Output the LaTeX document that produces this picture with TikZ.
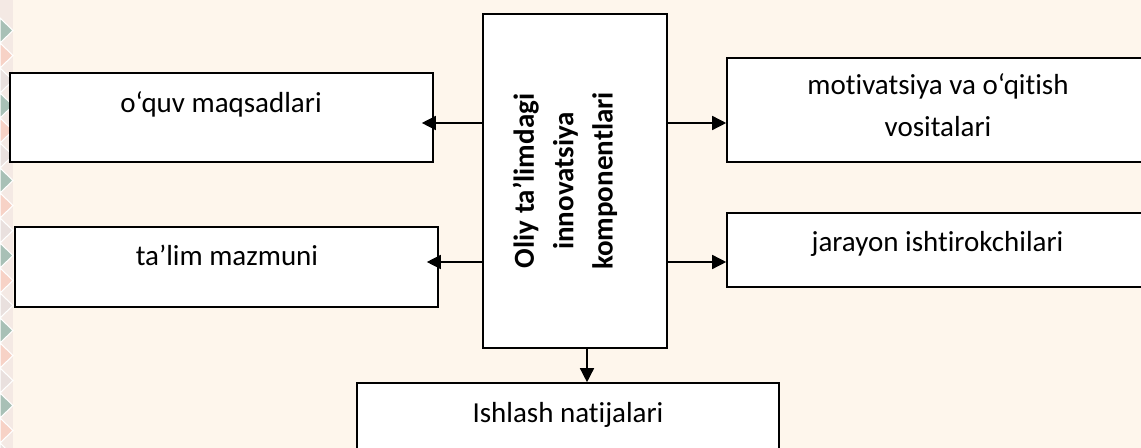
\documentclass[tikz,border=0pt]{standalone}
\usepackage{fontspec}
\setmainfont{Carlito}[Ligatures=NoCommon]
\usetikzlibrary{arrows.meta}
\definecolor{bgc}{HTML}{FEF6EC}
\definecolor{stripc}{HTML}{F4E9E4}
\definecolor{tgreen}{HTML}{A8C0B6}
\definecolor{tpink}{HTML}{F7D2C6}
\definecolor{tgray}{HTML}{E9E0DE}
\tikzset{
  box/.style={draw, fill=white, line width=1.2pt, inner sep=0pt},
  lbl/.style={font=\fontsize{21.75pt}{31.5pt}\selectfont, inner sep=0pt, anchor=base, align=center},
  conn/.style={line width=1.1pt, -{Triangle[length=10.5pt,width=10.5pt]}}
}
\begin{document}
\begin{tikzpicture}[x=0.75pt,y=-0.75pt]
\useasboundingbox (0,0) rectangle (1141,448);
\clip (0,0) rectangle (1141,448);
\fill[bgc] (0,0) rectangle (1141,448);
% decorative left strip
\fill[stripc] (0,0) rectangle (13,448);
\foreach \k [evaluate=\k as \yy using {\k*25}, evaluate=\k as \m using {int(mod(\k,3))}] in {0,...,18} {
  \ifnum\m=0 \def\tc{tgreen}\fi
  \ifnum\m=1 \def\tc{tpink}\fi
  \ifnum\m=2 \def\tc{tgray}\fi
  \fill[\tc, draw=white, line width=0.8pt] (0,\yy+18) -- (13,\yy+30.5) -- (0,\yy+43) -- cycle;
}
% boxes
\node[box, minimum width=138pt, minimum height=250.5pt] (c) at (575,181) {};
\node[box, minimum width=317.25pt, minimum height=66.75pt] (quv) at (221.5,117.5) {};
\node[box, minimum width=317.25pt, minimum height=60pt] (tal) at (226.5,267) {};
\node[box, minimum width=324.75pt, minimum height=78pt] (mot) at (943.5,110) {};
\node[box, minimum width=324.75pt, minimum height=55.5pt] (jar) at (943.5,250) {};
\node[box, minimum width=316.5pt, minimum height=65.25pt] (ish) at (568,426.5) {};
% texts
\node[lbl] (tquv) at (221,113) {o‘quv maqsadlari};
\node[lbl] (ttal) at (227,266) {ta’lim mazmuni};
\node[lbl] (tmot) at (938,137) {motivatsiya va o‘qitish\\vositalari};
\node[lbl] (tjar) at (937.5,252) {jarayon ishtirokchilari};
\node[lbl] (tish) at (568,422) {Ishlash natijalari};
\node[font=\bfseries\fontsize{21.75pt}{29.6pt}\selectfont, inner sep=0pt, align=center, rotate=90] (tc) at (565,181) {Oliy ta’limdagi\\innovatsiya\\komponentlari};
% connectors
\coordinate (y1) at (0,123);
\coordinate (y2) at (0,262);
\draw[conn, shorten >=-9pt] (c.west |- y1) -- (quv.east |- y1);
\draw[conn, shorten >=-9pt] (c.west |- y2) -- (tal.east |- y2);
\draw[conn] (c.east |- y1) -- (mot.west |- y1);
\draw[conn] (c.east |- y2) -- (jar.west |- y2);
\coordinate (xb) at (587,0);
\draw[conn] (c.south -| xb) -- (ish.north -| xb);
\end{tikzpicture}
\end{document}
